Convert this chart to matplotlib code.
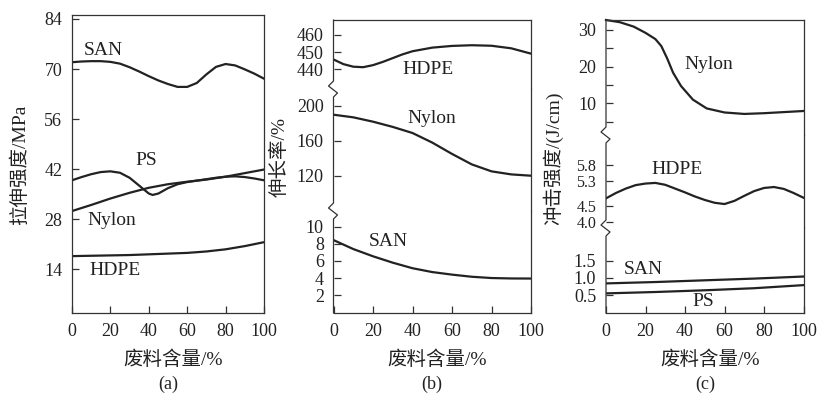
import numpy as np
import matplotlib
matplotlib.use('Agg')
import matplotlib.pyplot as plt
from matplotlib.lines import Line2D

plt.rcParams['font.family'] = ['Liberation Serif', 'Noto Sans CJK SC']
plt.rcParams['axes.unicode_minus'] = False

# ---- (a) tensile strength / MPa ----
a_san_x = [0, 5, 10, 15, 20, 25, 30, 35, 40, 45, 50, 55, 60, 65, 70, 75, 80, 85, 90, 95, 100]
a_san = [71.9, 72.1, 72.2, 72.2, 72.0, 71.5, 70.5, 69.3, 68.0, 66.8, 65.8, 65.0, 65.0, 66.1,
         68.5, 70.6, 71.4, 71.0, 69.9, 68.7, 67.3]
a_ps_x = [0, 5, 10, 15, 20, 25, 30, 35, 40, 42, 45, 50, 55, 60, 65, 70, 75, 80, 85, 90, 95, 100]
a_ps = [38.9, 39.8, 40.6, 41.2, 41.4, 41.0, 39.6, 37.4, 35.2, 34.8, 35.2, 36.7, 37.8, 38.4,
        38.8, 39.2, 39.6, 39.9, 40.0, 39.8, 39.4, 38.9]
a_nylon_x = [0, 10, 20, 30, 40, 50, 60, 70, 80, 90, 100]
a_nylon = [30.3, 32.0, 33.8, 35.4, 36.8, 37.8, 38.5, 39.1, 39.9, 40.9, 41.9]
a_hdpe_x = [0, 10, 20, 30, 40, 50, 60, 70, 80, 90, 100]
a_hdpe = [17.7, 17.8, 17.9, 18.0, 18.2, 18.4, 18.6, 19.0, 19.6, 20.5, 21.6]

# ---- (b) elongation / % ----
b_hdpe_x = [0, 5, 10, 15, 20, 25, 30, 35, 40, 50, 60, 70, 80, 90, 100]
b_hdpe = [445.7, 443.0, 441.5, 441.2, 442.4, 444.3, 446.5, 448.7, 450.5, 452.6, 453.6,
          454.0, 453.7, 452.2, 449.1]
b_nylon_x = [0, 10, 20, 30, 40, 50, 60, 70, 80, 90, 100]
b_nylon = [190, 187, 182, 176, 169, 158, 145, 133, 125, 121.5, 120]
b_san_x = [0, 10, 20, 30, 40, 50, 60, 70, 80, 90, 100]
b_san = [8.45, 7.4, 6.55, 5.8, 5.15, 4.7, 4.4, 4.15, 4.0, 3.95, 3.94]

# ---- (c) impact strength / (J/cm) ----
c_nylon_x = [0, 7, 14, 20, 25, 28, 31, 34, 38, 44, 51, 60, 70, 80, 90, 100]
c_nylon = [32.7, 32.1, 30.9, 29.2, 27.5, 25.6, 22.2, 18.3, 14.7, 11.0, 8.6, 7.5, 7.1, 7.3, 7.6, 7.9]
c_hdpe_x = [0, 5, 10, 15, 20, 25, 30, 35, 40, 45, 50, 55, 60, 65, 70, 75, 80, 85, 90, 95, 100]
c_hdpe = [4.75, 4.92, 5.06, 5.17, 5.22, 5.24, 5.18, 5.06, 4.94, 4.81, 4.70, 4.61, 4.57, 4.67,
          4.83, 4.98, 5.08, 5.11, 5.05, 4.92, 4.77]
c_san_x = [0, 25, 50, 75, 100]
c_san = [0.84, 0.88, 0.93, 0.98, 1.04]
c_ps_x = [0, 25, 50, 75, 100]
c_ps = [0.55, 0.59, 0.64, 0.70, 0.79]

xticks = [0, 20, 40, 60, 80, 100]

W, H = 818, 403
fig = plt.figure(figsize=(W / 100, H / 100), dpi=100)
ink = '#222222'
frame = '#333333'
LW = 1.6
FS = 13
LFS = 14


def add_ax(l, t, r, b):
    return fig.add_axes([l / W, 1 - b / H, (r - l) / W, (b - t) / H])


def style(ax, top=True, bottom=True, left=True):
    ax.set_xlim(0, 100)
    for s in ax.spines.values():
        s.set_color(frame)
        s.set_linewidth(0.9)
    ax.spines['top'].set_visible(top)
    ax.spines['bottom'].set_visible(bottom)
    ax.spines['left'].set_visible(left)
    ax.tick_params(direction='in', length=5, width=0.9, colors=frame, labelcolor=ink,
                   labelsize=FS, pad=7, which='both')
    if bottom:
        ax.set_xticks(xticks)
    else:
        ax.tick_params(axis='x', bottom=False, labelbottom=False)


def left_spine(x0, top, bottom, breaks):
    xs, ys = [x0], [top]
    for yb in breaks:
        xs += [x0, x0 - 5, x0 + 4, x0]
        ys += [yb - 8, yb - 3, yb + 4, yb + 8]
    xs.append(x0)
    ys.append(bottom)
    fig.add_artist(Line2D(np.array(xs) / W, 1 - np.array(ys) / H, transform=fig.transFigure,
                          color=frame, lw=0.9))


def captions(cx, letter):
    fig.text((cx + 5) / W, 1 - 360 / H, '废料含量/%', ha='center', va='center', fontsize=14, color=ink)
    fig.text(cx / W, 1 - 384 / H, letter, ha='center', va='center', fontsize=FS, color=ink)


# ---------------- (a) ----------------
axa = add_ax(72, 15, 264, 313)
style(axa)
axa.set_ylim(1.8, 85.1)
axa.set_yticks([14, 28, 42, 56, 70, 84])
axa.plot(a_san_x, a_san, color=ink, lw=LW)
axa.plot(a_ps_x, a_ps, color=ink, lw=LW)
axa.plot(a_nylon_x, a_nylon, color=ink, lw=LW)
axa.plot(a_hdpe_x, a_hdpe, color=ink, lw=LW)
axa.text(16.3, 75.3, 'SAN', fontsize=LFS, ha='center', va='center', color=ink)
axa.text(38.9, 44.5, 'PS', fontsize=LFS, ha='center', va='center', color=ink)
axa.text(20.7, 27.7, 'Nylon', fontsize=LFS, ha='center', va='center', color=ink)
axa.text(22.4, 13.7, 'HDPE', fontsize=LFS, ha='center', va='center', color=ink)
fig.text(20 / W, 1 - 165 / H, '拉伸强度/MPa', rotation=90, ha='center', va='center',
         fontsize=14, color=ink)
captions(168, '(a)')

# ---------------- (b) ----------------
bl, br = 333.5, 531
b1 = add_ax(bl, 20, br, 89)
b2 = add_ax(bl, 89, br, 211)
b3 = add_ax(bl, 211, br, 313)
style(b1, top=True, bottom=False, left=False)
style(b2, top=False, bottom=False, left=False)
style(b3, top=False, bottom=True, left=False)
b1.set_ylim(428.5, 468.7)
b1.set_yticks([440, 450, 460])
b2.set_ylim(79.5, 219.5)
b2.set_yticks([120, 160, 200])
b3.set_ylim(-0.1, 11.86)
b3.set_yticks([2, 4, 6, 8, 10])
b1.plot(b_hdpe_x, b_hdpe, color=ink, lw=LW)
b2.plot(b_nylon_x, b_nylon, color=ink, lw=LW)
b3.plot(b_san_x, b_san, color=ink, lw=LW)
b1.text(48, 440, 'HDPE', fontsize=LFS, ha='center', va='center', color=ink)
b2.text(49.7, 185.9, 'Nylon', fontsize=LFS, ha='center', va='center', color=ink)
b3.text(27.7, 8.25, 'SAN', fontsize=LFS, ha='center', va='center', color=ink)
left_spine(bl, 20, 313, [89, 211])
fig.text(280 / W, 1 - 157 / H, '伸长率/%', rotation=90, ha='center', va='center',
         fontsize=14, color=ink)
captions((bl + br) / 2, '(b)')

# ---------------- (c) ----------------
cl, cr = 606, 803.5
c1 = add_ax(cl, 20, cr, 135)
c2 = add_ax(cl, 135, cr, 228)
c3 = add_ax(cl, 228, cr, 313)
style(c1, top=True, bottom=False, left=False)
style(c2, top=False, bottom=False, left=False)
style(c3, top=False, bottom=True, left=False)
c1.set_ylim(1.36, 32.7)
c1.set_yticks([10, 20, 30])
c1.set_yticks([5, 15, 25], minor=True)
c2.set_ylim(3.81, 6.76)
c2.set_yticks([4.0, 4.5, 5.3, 5.8])
c2.set_yticklabels(['4.0', '4.5', '5.3', '5.8'])
c2.tick_params(axis='y', labelsize=11.5)
c3.set_ylim(-0.02, 2.45)
c3.set_yticks([0.5, 1.0, 1.5])
c3.set_yticklabels(['0.5', '1.0', '1.5'])
c1.plot(c_nylon_x, c_nylon, color=ink, lw=LW, clip_on=False)
c2.plot(c_hdpe_x, c_hdpe, color=ink, lw=LW)
c3.plot(c_san_x, c_san, color=ink, lw=LW)
c3.plot(c_ps_x, c_ps, color=ink, lw=LW)
c1.text(51.8, 20.6, 'Nylon', fontsize=LFS, ha='center', va='center', color=ink)
c2.text(35.8, 5.68, 'HDPE', fontsize=LFS, ha='center', va='center', color=ink)
c3.text(18.9, 1.23, 'SAN', fontsize=LFS, ha='center', va='center', color=ink)
c3.text(49.3, 0.30, 'PS', fontsize=LFS, ha='center', va='center', color=ink)
left_spine(cl, 20, 313, [135, 228])
fig.text(553 / W, 1 - 158 / H, '冲击强度/(J/cm)', rotation=90, ha='center', va='center',
         fontsize=14, color=ink)
captions((cl + cr) / 2, '(c)')

fig.savefig('out.png', dpi=100, facecolor='white')
